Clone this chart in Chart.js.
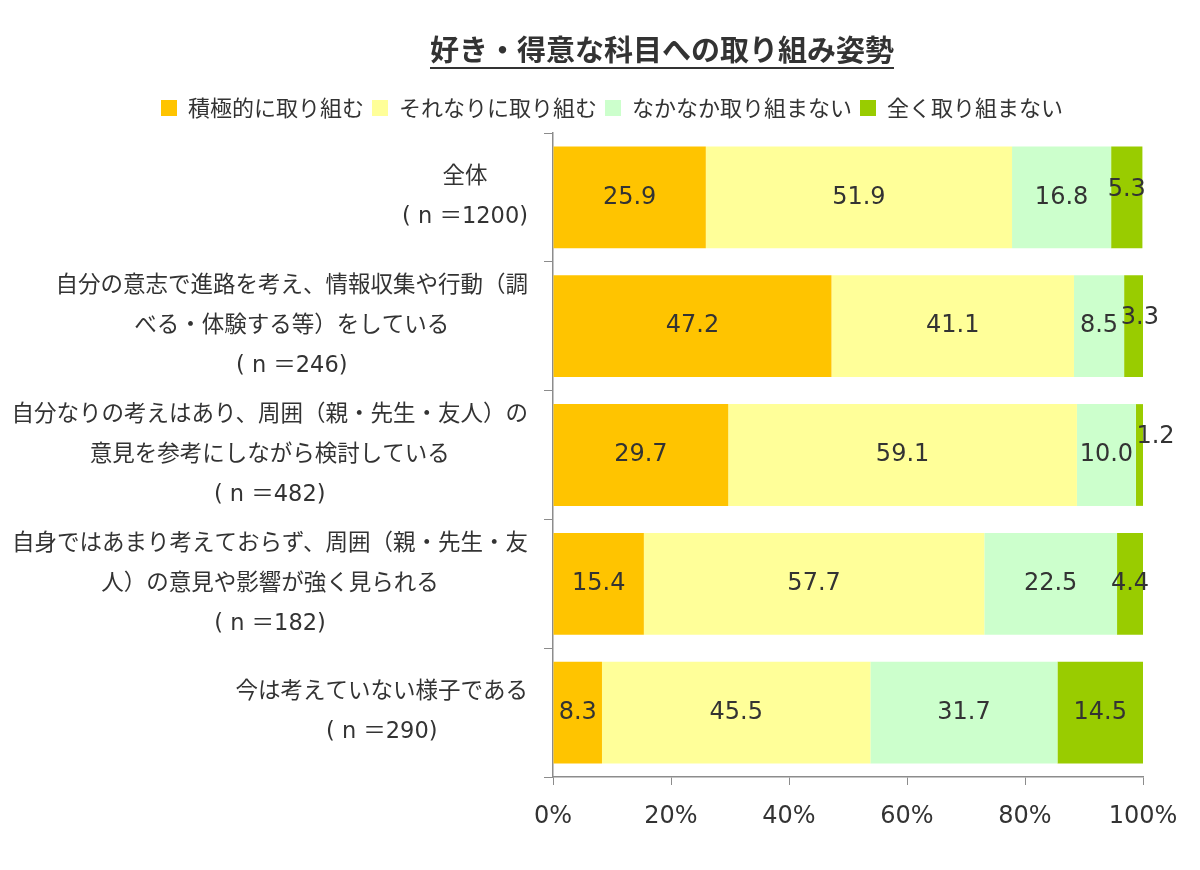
<!DOCTYPE html>
<html lang="ja">
<head>
<meta charset="utf-8">
<script src="https://cdn.jsdelivr.net/npm/chart.js@4"></script>
<style>
  html, body { margin: 0; padding: 0; background: #fff; }
  #wrap { width: 1200px; height: 870px; }
</style>
</head>
<body>
<div id="wrap"><canvas id="attitudeChart" width="1200" height="870"></canvas></div>
<script>
// ===============================
// Data
// ===============================
const CHART_TITLE = "好き・得意な科目への取り組み姿勢";

const CATEGORY_LABELS = [
  ["全体", "( n ＝1200)"],
  ["自分の意志で進路を考え、情報収集や行動（調", "べる・体験する等）をしている", "( n ＝246)"],
  ["自分なりの考えはあり、周囲（親・先生・友人）の", "意見を参考にしながら検討している", "( n ＝482)"],
  ["自身ではあまり考えておらず、周囲（親・先生・友", "人）の意見や影響が強く見られる", "( n ＝182)"],
  ["今は考えていない様子である", "( n ＝290)"]
];

const SERIES_NAMES = ["積極的に取り組む", "それなりに取り組む", "なかなか取り組まない", "全く取り組まない"];

const ACTIVE   = [25.9, 47.2, 29.7, 15.4, 8.3];
const MODERATE = [51.9, 41.1, 59.1, 57.7, 45.5];
const RARELY   = [16.8, 8.5, 10.0, 22.5, 31.7];
const NEVER    = [5.3, 3.3, 1.2, 4.4, 14.5];

const X_TICKS = [0, 20, 40, 60, 80, 100];

// ===============================
// Style
// ===============================
const COLORS = ["#ffc400", "#ffff99", "#ccffcc", "#99cc00"];
const FONT = "'DejaVu Sans', 'Noto Sans CJK JP', sans-serif";
const JP_FONT = "'Noto Sans CJK JP', sans-serif";
const TEXT = "#333333";
const AXIS = "#8c8c8c";

// small label shifts where Excel moved crowded labels
const LABEL_NUDGE = { "3-0": [0, -8], "3-1": [6, -8], "3-2": [16, -18] };

/* -----------------------------------------------------
   Title with underline
----------------------------------------------------- */
const titlePlugin = {
  id: "titleUnderline",
  afterDraw(chart) {
    const ctx = chart.ctx;
    ctx.save();
    ctx.font = "bold 29px " + JP_FONT;
    ctx.fillStyle = TEXT;
    ctx.textAlign = "center";
    ctx.textBaseline = "middle";
    const cx = 662, cy = 50;
    ctx.fillText(CHART_TITLE, cx, cy);
    const w = ctx.measureText(CHART_TITLE).width;
    ctx.strokeStyle = TEXT;
    ctx.lineWidth = 2;
    ctx.beginPath();
    ctx.moveTo(cx - w / 2, 68);
    ctx.lineTo(cx + w / 2, 68);
    ctx.stroke();
    ctx.restore();
  }
};

/* -----------------------------------------------------
   Extra room under the legend
----------------------------------------------------- */
const legendGap = {
  id: "legendGap",
  beforeInit(chart) {
    const fit = chart.legend.fit;
    chart.legend.fit = function () {
      fit.bind(chart.legend)();
      this.height += 4;
    };
  }
};

/* -----------------------------------------------------
   Category labels (right aligned block, centred lines)
----------------------------------------------------- */
const categoryPlugin = {
  id: "categoryLabels",
  afterDraw(chart) {
    const ctx = chart.ctx;
    const yScale = chart.scales.y;
    const lineH = 40;
    ctx.save();
    ctx.font = "22.5px " + FONT;
    ctx.fillStyle = TEXT;
    ctx.textAlign = "center";
    ctx.textBaseline = "middle";
    const right = yScale.right - 25;
    CATEGORY_LABELS.forEach((lines, i) => {
      const cy = yScale.getPixelForValue(i);
      const maxW = Math.max(...lines.map((l) => ctx.measureText(l).width));
      const cx = right - maxW / 2;
      lines.forEach((line, j) => {
        ctx.fillText(line, cx, cy + (j - (lines.length - 1) / 2) * lineH);
      });
    });
    ctx.restore();
  }
};

/* -----------------------------------------------------
   Value labels in the segments
----------------------------------------------------- */
const valuePlugin = {
  id: "valueLabels",
  afterDatasetsDraw(chart) {
    const ctx = chart.ctx;
    ctx.save();
    ctx.font = "24px " + FONT;
    ctx.fillStyle = TEXT;
    ctx.textAlign = "center";
    ctx.textBaseline = "middle";
    chart.data.datasets.forEach((ds, di) => {
      const meta = chart.getDatasetMeta(di);
      meta.data.forEach((bar, i) => {
        const nudge = LABEL_NUDGE[di + "-" + i] || [0, 0];
        const x = (bar.x + bar.base) / 2 + nudge[0];
        ctx.fillText(ds.data[i].toFixed(1), x, bar.y + nudge[1]);
      });
    });
    ctx.restore();
  }
};

const seriesData = [ACTIVE, MODERATE, RARELY, NEVER];

new Chart(document.getElementById("attitudeChart"), {
  type: "bar",
  data: {
    labels: CATEGORY_LABELS.map((l) => l.join(" ")),
    datasets: SERIES_NAMES.map((name, i) => ({
      label: name,
      data: seriesData[i],
      backgroundColor: COLORS[i],
      borderWidth: 0,
      categoryPercentage: 1,
      barPercentage: 0.79
    }))
  },
  options: {
    indexAxis: "y",
    responsive: false,
    animation: false,
    layout: { padding: { top: 89, left: 81, right: 57, bottom: 0 } },
    plugins: {
      title: { display: false },
      tooltip: { enabled: false },
      legend: {
        position: "top",
        labels: {
          font: { family: JP_FONT, size: 22 },
          color: TEXT,
          boxWidth: 16,
          boxHeight: 16,
          padding: 8
        }
      }
    },
    scales: {
      x: {
        stacked: true,
        min: 0,
        max: 100,
        afterBuildTicks: (scale) => {
          scale.ticks = X_TICKS.map((v) => ({ value: v }));
        },
        afterFit: (scale) => { scale.height = 93; },
        grid: { drawOnChartArea: false, tickLength: 8, color: AXIS },
        border: { color: AXIS, width: 1.5 },
        ticks: {
          font: { family: FONT, size: 24 },
          color: TEXT,
          padding: 17,
          callback: (v) => v + "%"
        }
      },
      y: {
        stacked: true,
        afterFit: (scale) => { scale.width = 553 - 81; },
        grid: { drawOnChartArea: false, offset: true, tickLength: 9, color: AXIS },
        border: { color: AXIS, width: 1.5 },
        ticks: { display: false }
      }
    }
  },
  plugins: [legendGap, titlePlugin, categoryPlugin, valuePlugin]
});
</script>
</body>
</html>
